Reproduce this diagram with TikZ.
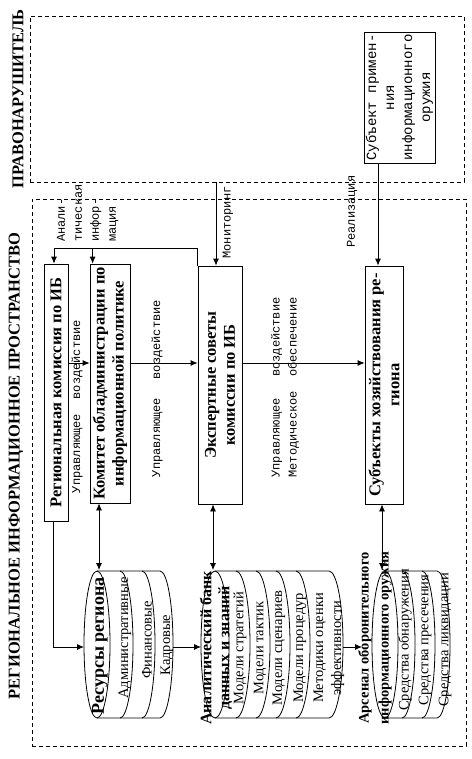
\documentclass[tikz,border=0pt]{standalone}
\usepackage{fontspec}
\setmainfont{Liberation Serif}
\setmonofont{Liberation Mono}
\usetikzlibrary{arrows.meta}

\begin{document}
\begin{tikzpicture}[x=1pt, y=-1pt,
    zone/.style={draw, dash pattern=on 4pt off 3pt, line width=0.8pt, inner sep=0pt},
    ttl/.style={rotate=90, inner sep=0pt, font=\bfseries\fontsize{16.5}{18}\selectfont},
    org/.style={rotate=90, draw, line width=0.8pt, align=center, inner sep=0pt,
                font=\bfseries\fontsize{16.5}{19}\selectfont},
    lbl/.style={rotate=90, inner sep=0pt, font=\ttfamily\fontsize{12}{17}\selectfont},
    cyl/.style={line width=0.8pt},
    head/.style={rotate=90, inner sep=0pt, align=center, font=\bfseries\fontsize{16}{18}\selectfont},
    item/.style={rotate=90, inner sep=0pt, align=center, font=\fontsize{14.5}{18}\selectfont},
    arr/.style={-{Latex[length=7pt,width=6pt]}, line width=0.8pt},
    both/.style={{Latex[length=7pt,width=6pt]}-{Latex[length=7pt,width=6pt]}, line width=0.8pt}
]
\useasboundingbox (0,0) rectangle (471,759);

% zones
\node[zone, minimum width=434pt, minimum height=166pt] (offender) at (247,99) {};
\node[zone, minimum width=434pt, minimum height=547pt] (region) at (249,472.5) {};
\node[ttl] (offtitle) at (18,99) {ПРАВОНАРУШИТЕЛЬ};
\node[ttl] (regtitle) at (16,466) {РЕГИОНАЛЬНОЕ ИНФОРМАЦИОННОЕ ПРОСТРАНСТВО};

% rotated boxes: east = top, west = bottom, north = left, south = right
\node[org, font=\ttfamily\fontsize{14}{18}\selectfont, minimum width=131pt, minimum height=71pt] (weapon) at (399.5,97.5)
    {Субъект примен-\\ния\\информационного\\оружия};
\node[org, minimum width=257pt, minimum height=24pt] (reg)    at (56,392.5)  {Региональная комиссия по ИБ};
\node[org, minimum width=239pt, minimum height=40pt] (comm)   at (110,383.5) {Комитет обладминистрации по\\информационной политике};
\node[org, minimum width=238pt, minimum height=44pt] (expert) at (220,385)   {Экспертные советы\\комиссии по ИБ};
\node[org, minimum width=238pt, minimum height=38pt] (subj)   at (384,385)   {Субъекты хозяйствования ре-\\гиона};

% cylinders
\draw[cyl] (97,644.5) ellipse (13 and 73.5);
\draw[cyl] (97,571) -- (160,571) arc (-90:90:13 and 73.5) -- (97,718);
\foreach \c in {120,142} \draw[cyl] (\c,571) arc (-90:90:13 and 73.5);
\draw[cyl] (215,644.5) ellipse (14 and 73.5);
\draw[cyl] (215,571) -- (329,571) arc (-90:90:14 and 73.5) -- (215,718);
\foreach \c in {236,256,276,296} \draw[cyl] (\c,571) arc (-90:90:14 and 73.5);
\draw[cyl] (385,644.5) ellipse (13 and 73.5);
\draw[cyl] (385,571) -- (437,571) arc (-90:90:13 and 73.5) -- (385,718);
\foreach \c in {402,422} \draw[cyl] (\c,571) arc (-90:90:13 and 73.5);

\node[head, font=\bfseries\fontsize{18}{20}\selectfont] (res) at (100,646) {Ресурсы региона};
\node[item] (res1) at (125,638) {Административные};
\node[item] (res2) at (147,640) {Финансовые};
\node[item] (res3) at (167,645) {Кадровые};

\node[head] (ana) at (216,648) {Аналитический банк\\данных и знаний};
\node[item] (ana1) at (240,648) {Модели стратегий};
\node[item] (ana2) at (260,648) {Модели тактик};
\node[item] (ana3) at (279,648) {Модели сценариев};
\node[item] (ana4) at (300,648) {Модели процедур};
\node[item] (ana5) at (329,648) {Методики оценки\\эффективности};

\node[head, font=\bfseries\fontsize{14.5}{20}\selectfont] (ars) at (375,638) {Арсенал оборонительного\\информационного оружия};
\node[item] (ars1) at (405,640) {Средства обнаружения};
\node[item] (ars2) at (425,640) {Средства пресечения};
\node[item] (ars3) at (445,640) {Средства ликвидации};

% connector ends
\coordinate (flow)    at (0,363);
\coordinate (split)   at (198,248);
\coordinate (comm-in) at ([xshift=3pt]comm.north east);
\coordinate (mon)     at ([xshift=-4pt]expert.east);
\coordinate (real)    at ([xshift=-6pt]subj.east);
\coordinate (res-in)  at (84,647);
\coordinate (res-out) at (173,647);
\coordinate (ana-in)  at (201,647);
\coordinate (ana-out) at (343,647);
\coordinate (ars-in)  at (362,647);
\coordinate (res-top) at (99,570);
\coordinate (ana-top) at (213,570);
\coordinate (ars-top) at (382,570);

\draw[arr] (reg.south |- flow)    -- (comm.north |- flow);
\draw[arr] (comm.south |- flow)   -- (expert.north |- flow);
\draw[arr] (expert.south |- flow) -- (subj.north |- flow);
\draw[arr] (expert.north east) -- (expert.north east |- split) -| ([xshift=-2pt]reg.east);
\draw[arr] (comm-in |- split) -- (comm-in);
\draw[arr] (mon |- offender.south) -- (mon);
\draw[arr] (real |- weapon.west) -- (real);
\draw[arr] ([xshift=-3pt]reg.west) |- (res-in);
\draw[arr] (res-out) -- (ana-in);
\draw[arr] (ana-out) -- (ars-in);
\draw[both] (comm.west -| res-top)   -- (res-top);
\draw[both] (expert.west -| ana-top) -- (ana-top);
\draw[both] (subj.west -| ars-top)   -- (ars-top);

\node[lbl, align=left, anchor=west] (ainfo) at (87.5,242) {Анали-\\тическая\\инфор-\\мация};
\node[lbl, text width=173pt] (ctl1) at (77,406.5)  {Управляющее\hfill воздействие};
\node[lbl, text width=177pt] (ctl2) at (157,388.5) {Управляющее\hfill воздействие};
\node[lbl, text width=180pt, align=left] (ctl3) at (285,387.5)
    {Управляющее\hfill воздействие\\Методическое\hfill обеспечение};
\node[lbl] (monlbl) at (228,222.5) {Мониторинг};
\node[lbl, anchor=west] (reallbl) at (352,248) {Реализация};

\end{tikzpicture}
\end{document}
